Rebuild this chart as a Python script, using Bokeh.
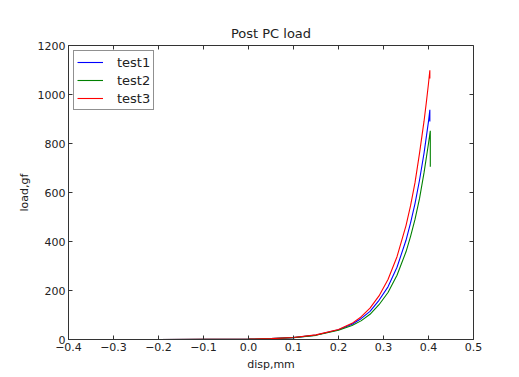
import math
from bokeh.plotting import figure
from bokeh.models import FixedTicker, Range1d, Legend, LegendItem
from bokeh.embed import file_html
from bokeh.resources import INLINE

# ---- data ----
disp1 = [-0.30, -0.20, -0.10, 0.00, 0.05, 0.10, 0.15, 0.20, 0.23, 0.25, 0.27, 0.29, 0.31, 0.33, 0.35, 0.36, 0.37, 0.38, 0.39, 0.395, 0.400, 0.403, 0.403]
load1 = [0, 0, 0.5, 1.5, 3.5, 7.5, 18, 40, 62, 85, 115, 160, 215, 295, 405, 475, 555, 650, 760, 825, 890, 938, 890]

disp2 = [-0.30, -0.20, -0.10, 0.00, 0.05, 0.10, 0.15, 0.20, 0.23, 0.25, 0.27, 0.29, 0.31, 0.33, 0.35, 0.36, 0.37, 0.38, 0.39, 0.400, 0.404, 0.404]
load2 = [0, 0, 0.5, 1.5, 3.5, 7.5, 17, 38, 57, 76, 103, 142, 192, 262, 358, 420, 490, 575, 680, 800, 852, 705]

disp3 = [-0.30, -0.20, -0.10, 0.00, 0.05, 0.10, 0.15, 0.20, 0.23, 0.25, 0.27, 0.29, 0.31, 0.33, 0.35, 0.36, 0.37, 0.38, 0.39, 0.395, 0.400, 0.403, 0.403]
load3 = [0, 0, 0.5, 1.5, 3.5, 8, 19, 41, 66, 92, 128, 178, 245, 338, 465, 545, 640, 760, 890, 965, 1045, 1099, 1065]

series_names = ["test1", "test2", "test3"]
series_colors = ["#0000ff", "#008000", "#ff0000"]

x_ticks = [-0.4, -0.3, -0.2, -0.1, 0.0, 0.1, 0.2, 0.3, 0.4, 0.5]
x_tick_labels = ["\u22120.4", "\u22120.3", "\u22120.2", "\u22120.1", "0.0", "0.1", "0.2", "0.3", "0.4", "0.5"]
y_ticks = [0, 200, 400, 600, 800, 1000, 1200]
y_tick_labels = ["0", "200", "400", "600", "800", "1000", "1200"]

X_MIN, X_MAX = -0.4, 0.5
Y_MIN, Y_MAX = 0, 1200

FONT = "DejaVu Sans"
TXT = "#222222"
FRAME = "#333333"

p = figure(width=519, height=377, x_range=Range1d(X_MIN, X_MAX), y_range=Range1d(Y_MIN, Y_MAX),
           output_backend="svg", toolbar_location=None,
           min_border_left=68, min_border_right=46, min_border_top=45, min_border_bottom=38,
           title="Post PC load", background_fill_color="white", border_fill_color="white")
p.outline_line_color = FRAME
p.grid.visible = False

p.title.text_font = FONT
p.title.text_font_size = "13px"
p.title.text_font_style = "normal"
p.title.text_color = TXT
p.title.align = "center"

xa = p.xaxis[0]
ya = p.yaxis[0]
xa.ticker = FixedTicker(ticks=x_ticks)
xa.major_label_overrides = dict(zip(x_ticks, x_tick_labels))
ya.ticker = FixedTicker(ticks=y_ticks)
ya.major_label_overrides = dict(zip(y_ticks, y_tick_labels))
xa.axis_label = "disp,mm"
ya.axis_label = "load,gf"

for ax in (xa, ya):
    ax.major_tick_in = 4
    ax.major_tick_out = 0
    ax.minor_tick_in = 0
    ax.minor_tick_out = 0
    ax.axis_line_color = FRAME
    ax.major_tick_line_color = FRAME
    ax.major_label_text_font = FONT
    ax.major_label_text_font_size = "11px"
    ax.major_label_text_color = TXT
    ax.axis_label_text_font = FONT
    ax.axis_label_text_font_size = "11px"
    ax.axis_label_text_font_style = "normal"
    ax.axis_label_text_color = TXT
    ax.major_label_standoff = 3
    ax.axis_label_standoff = 4

# inward ticks on the top and right edges (half of each dash is clipped by the frame)
p.scatter(x=x_ticks, y=[Y_MAX] * len(x_ticks), marker="dash", size=8, angle=math.pi / 2,
          line_color=FRAME, line_width=1)
p.scatter(x=[X_MAX] * len(y_ticks), y=y_ticks, marker="dash", size=8, angle=0,
          line_color=FRAME, line_width=1)

items = []
for d, l, name, c in zip([disp1, disp2, disp3], [load1, load2, load3], series_names, series_colors):
    r = p.line(d, l, line_color=c, line_width=1.1)
    items.append(LegendItem(label=name, renderers=[r]))

legend = Legend(items=items, location="top_left")
legend.margin = 5
legend.padding = 3
legend.spacing = 2
legend.glyph_height = 16
legend.glyph_width = 26
legend.label_standoff = 14
legend.label_text_font = FONT
legend.label_text_font_size = "13px"
legend.label_text_color = TXT
legend.border_line_color = "#222222"
legend.border_line_width = 1
legend.background_fill_color = "white"
legend.background_fill_alpha = 1.0
p.add_layout(legend, "center")

open("out.html", "w").write(file_html(p, INLINE))
